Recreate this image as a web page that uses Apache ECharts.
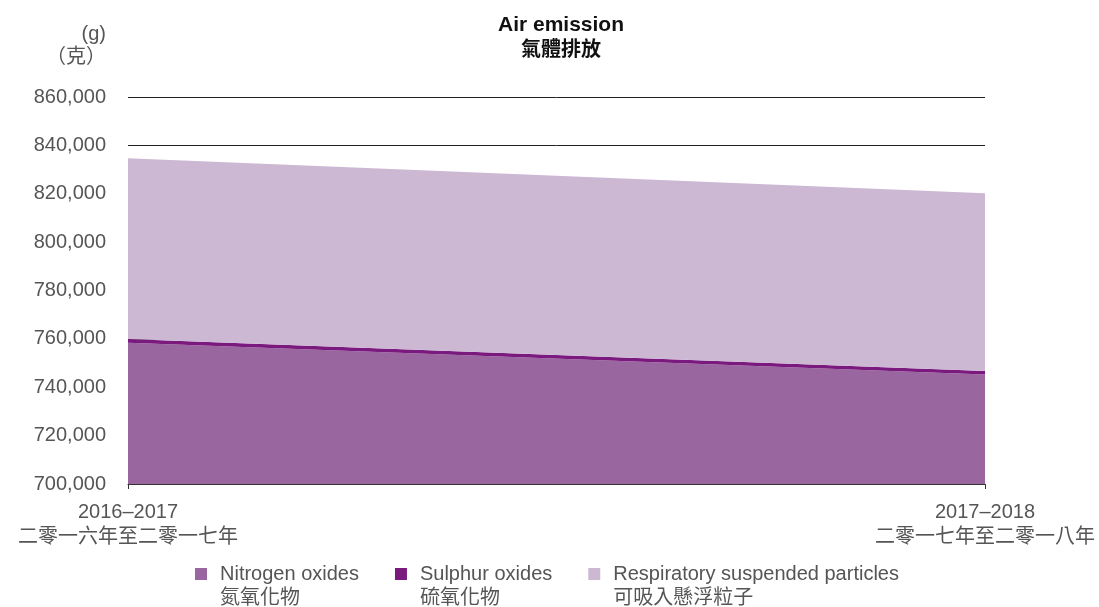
<!DOCTYPE html>
<html>
<head>
<meta charset="utf-8">
<script src="https://cdn.jsdelivr.net/npm/echarts@6/dist/echarts.min.js"></script>
<style>
  html, body { margin: 0; padding: 0; background: #fff; }
  #chart { width: 1099px; height: 607px; }
</style>
</head>
<body>
<div id="chart"></div>
<script>
var categories = ["2016–2017\n二零一六年至二零一七年", "2017–2018\n二零一七年至二零一八年"];
var nitrogen = [758400, 745300];
var sulphur = [1500, 1400];
var rsp = [74800, 73550];
var seriesNames = [
  "Nitrogen oxides\n氮氧化物",
  "Sulphur oxides\n硫氧化物",
  "Respiratory suspended particles\n可吸入懸浮粒子"
];
var colors = ["#9966a0", "#7b1a7e", "#cdb8d4"];

var font = "'Liberation Sans', 'Noto Sans CJK TC', sans-serif";
var myChart = echarts.init(document.getElementById("chart"));

function areaSeries(name, data, color) {
  return {
    name: name,
    type: "line",
    stack: "total",
    data: data,
    showSymbol: false,
    symbol: "none",
    lineStyle: { width: 0 },
    areaStyle: { color: color, opacity: 1 },
    itemStyle: { color: color },
    emphasis: { disabled: true }
  };
}

var option = {
  animation: false,
  color: colors,
  title: {
    text: "Air emission",
    subtext: "氣體排放",
    left: 556,
    textAlign: "center",
    top: 10,
    itemGap: 4,
    textStyle: { fontFamily: font, fontSize: 21, fontWeight: "bold", color: "#111" },
    subtextStyle: { fontFamily: font, fontSize: 20, fontWeight: "bold", color: "#111" }
  },
  grid: {
    left: 128,
    right: 114,
    top: 97,
    bottom: 123,
    containLabel: false
  },
  legend: {
    left: 190,
    top: 533,
    itemWidth: 12,
    itemHeight: 12,
    itemGap: 36,
    icon: "rect",
    selectedMode: false,
    // blank first line so the square sits beside the English line
    formatter: function (name) {
      return " \n" + name;
    },
    textStyle: {
      fontFamily: font,
      fontSize: 20,
      color: "#555",
      lineHeight: 24,
      padding: [0, 0, 0, 8]
    },
    data: seriesNames
  },
  xAxis: {
    type: "category",
    boundaryGap: false,
    data: categories,
    axisLine: { show: true, lineStyle: { color: "#333", width: 1 } },
    axisTick: { show: true, length: 5, lineStyle: { color: "#333" } },
    axisLabel: {
      fontFamily: font,
      fontSize: 20,
      color: "#555",
      lineHeight: 25,
      margin: 16,
      interval: 0
    }
  },
  yAxis: {
    type: "value",
    min: 700000,
    max: 860000,
    interval: 20000,
    name: "(g)\n（克）",
    nameLocation: "end",
    nameGap: 28,
    nameTextStyle: {
      fontFamily: font,
      fontSize: 20,
      color: "#555",
      lineHeight: 23,
      align: "right",
      padding: [0, 22, 0, 0]
    },
    axisLine: { show: false },
    axisTick: { show: false },
    splitLine: { show: true, lineStyle: { color: "#222", width: 1 } },
    axisLabel: {
      fontFamily: font,
      fontSize: 20,
      color: "#555",
      margin: 22,
      formatter: function (v) {
        return v.toString().replace(/\B(?=(\d{3})+(?!\d))/g, ",");
      }
    }
  },
  series: [
    areaSeries(seriesNames[0], nitrogen, colors[0]),
    areaSeries(seriesNames[1], sulphur, colors[1]),
    areaSeries(seriesNames[2], rsp, colors[2])
  ]
};

myChart.setOption(option, true);
window.addEventListener("resize", function () {
  myChart.resize();
});
</script>
</body>
</html>
